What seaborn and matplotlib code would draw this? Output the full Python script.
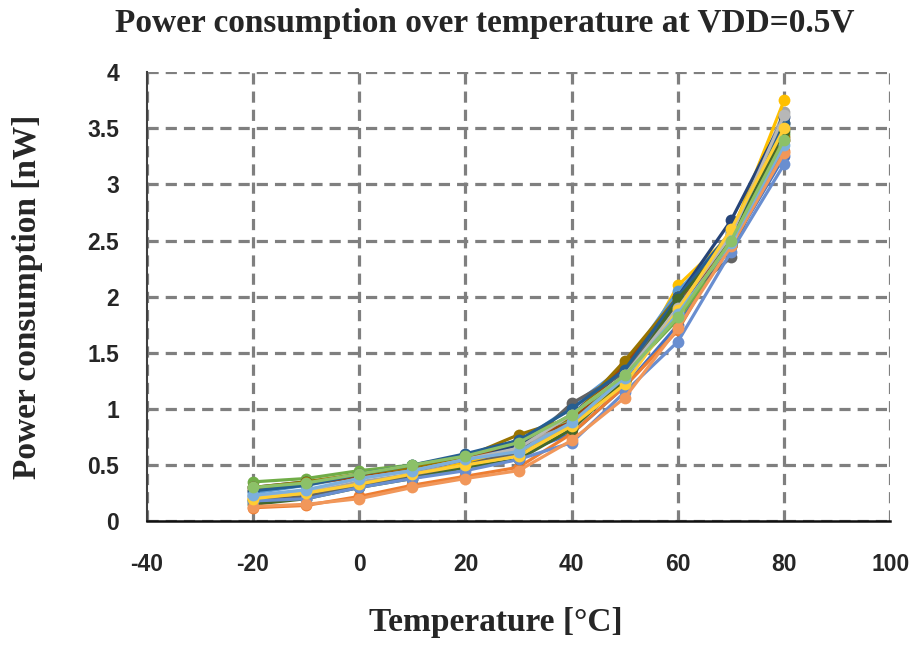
import matplotlib
matplotlib.use("Agg")
import matplotlib.pyplot as plt
import seaborn as sns
import pandas as pd

temperatures = [-20, -10, 0, 10, 20, 30, 40, 50, 60, 70, 80]

chip_01 = [0.22, 0.25, 0.33, 0.42, 0.50, 0.60, 0.78, 1.20, 1.75, 2.45, 3.25]
chip_02 = [0.12, 0.14, 0.22, 0.32, 0.40, 0.48, 0.78, 1.20, 1.70, 2.52, 3.30]
chip_03 = [0.20, 0.25, 0.35, 0.42, 0.52, 0.65, 0.90, 1.30, 1.85, 2.55, 3.65]
chip_04 = [0.20, 0.25, 0.32, 0.40, 0.52, 0.62, 0.85, 1.25, 2.10, 2.55, 3.75]
chip_05 = [0.25, 0.32, 0.40, 0.48, 0.58, 0.70, 1.02, 1.38, 2.05, 2.55, 3.52]
chip_06 = [0.35, 0.38, 0.45, 0.50, 0.58, 0.72, 0.92, 1.30, 1.80, 2.45, 3.45]
chip_07 = [0.30, 0.35, 0.40, 0.45, 0.55, 0.68, 0.95, 1.35, 2.00, 2.68, 3.60]
chip_08 = [0.28, 0.33, 0.40, 0.45, 0.55, 0.72, 0.88, 1.40, 1.95, 2.45, 3.40]
chip_09 = [0.18, 0.22, 0.32, 0.40, 0.50, 0.62, 1.05, 1.32, 1.95, 2.35, 3.55]
chip_10 = [0.30, 0.35, 0.42, 0.48, 0.57, 0.77, 0.92, 1.43, 2.00, 2.50, 3.42]
chip_11 = [0.27, 0.32, 0.42, 0.50, 0.60, 0.72, 1.00, 1.35, 2.00, 2.58, 3.55]
chip_12 = [0.15, 0.20, 0.30, 0.38, 0.48, 0.55, 0.82, 1.25, 1.98, 2.50, 3.48]
chip_13 = [0.18, 0.20, 0.30, 0.38, 0.45, 0.55, 0.70, 1.15, 1.60, 2.40, 3.18]
chip_14 = [0.13, 0.15, 0.20, 0.30, 0.38, 0.45, 0.72, 1.10, 1.72, 2.45, 3.28]
chip_15 = [0.22, 0.27, 0.38, 0.45, 0.55, 0.65, 0.95, 1.30, 1.90, 2.55, 3.62]
chip_16 = [0.20, 0.25, 0.33, 0.42, 0.50, 0.58, 0.85, 1.22, 1.88, 2.60, 3.50]
chip_17 = [0.23, 0.28, 0.38, 0.45, 0.55, 0.62, 0.88, 1.28, 1.85, 2.48, 3.35]
chip_18 = [0.30, 0.34, 0.42, 0.50, 0.58, 0.70, 0.95, 1.30, 1.82, 2.50, 3.40]

chips = [chip_01, chip_02, chip_03, chip_04, chip_05, chip_06, chip_07, chip_08, chip_09,
         chip_10, chip_11, chip_12, chip_13, chip_14, chip_15, chip_16, chip_17, chip_18]

colors = ["#4472C4", "#ED7D31", "#A5A5A5", "#FFC000", "#5B9BD5", "#70AD47",
          "#264478", "#9E480E", "#636363", "#997300", "#255E91", "#43682B",
          "#698ED0", "#F1975A", "#B7B7B7", "#FFCD33", "#7CAFDD", "#8CC168"]

x_ticks = [-40, -20, 0, 20, 40, 60, 80, 100]
y_ticks = [0, 0.5, 1, 1.5, 2, 2.5, 3, 3.5, 4]
y_tick_labels = ["0", "0.5", "1", "1.5", "2", "2.5", "3", "3.5", "4"]

rows = []
for i, vals in enumerate(chips):
    for t, v in zip(temperatures, vals):
        rows.append({"chip": f"chip{i+1}", "T": t, "P": v})
df = pd.DataFrame(rows)

sns.set_style("white")
fig = plt.figure(figsize=(9.17, 6.45), dpi=100)
ax = fig.add_axes([0.160, 0.192, 0.811, 0.696])

sns.lineplot(data=df, x="T", y="P", hue="chip", palette=colors, marker="o",
             markersize=8.5, markeredgewidth=0, linewidth=2.3, legend=False, ax=ax,
             sort=False, zorder=3)

ax.set_xlim(-40, 100)
ax.set_ylim(0, 4)
ax.set_xticks(x_ticks)
ax.set_yticks(y_ticks)
ax.set_xticklabels([str(v) for v in x_ticks])
ax.set_yticklabels(y_tick_labels)
ax.grid(True, linestyle=(0, (3.5, 2.2)), color="#7F7F7F", linewidth=2.3)
ax.set_axisbelow(True)
for s in ["top", "right"]:
    ax.spines[s].set_visible(False)
ax.spines["left"].set_color("#404040")
ax.spines["left"].set_linewidth(1.5)
ax.spines["bottom"].set_color("#101010")
ax.spines["bottom"].set_linewidth(1.8)
ax.tick_params(axis="x", length=0, pad=23, labelsize=16.5)
ax.tick_params(axis="y", length=0, pad=20, labelsize=16.5)
for lab in ax.get_xticklabels() + ax.get_yticklabels():
    lab.set_fontweight("bold")
    lab.set_family("Liberation Sans")

ax.set_xlabel("Temperature [°C]", fontsize=24, fontweight="bold",
              family="Liberation Serif")
ax.set_ylabel("Power consumption [nW]", fontsize=24, fontweight="bold",
              family="Liberation Serif")
ax.xaxis.set_label_coords(0.47, -0.225)
ax.xaxis.label.set_va("center")
ax.yaxis.set_label_coords(-0.16, 0.5)
ax.yaxis.label.set_va("center")

fig.text(0.529, 0.963, "Power consumption over temperature at VDD=0.5V",
         fontsize=24, fontweight="bold", family="Liberation Serif",
         ha="center", va="center")

fig.savefig("out.png", dpi=100)
